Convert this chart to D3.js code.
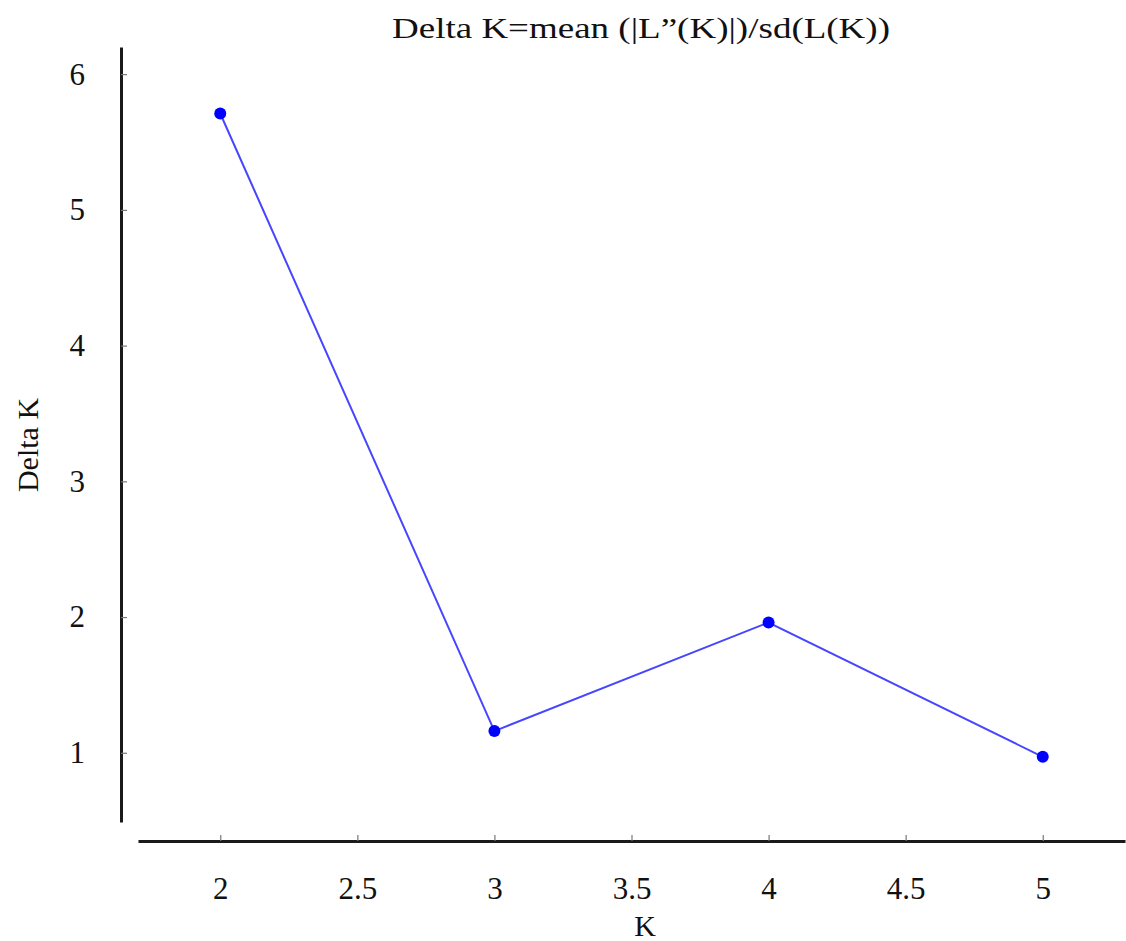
<!DOCTYPE html>
<html>
<head>
<meta charset="utf-8">
<script src="https://cdn.jsdelivr.net/npm/d3@7"></script>
<style>
    body { margin: 0; background: #fff; }
    svg text { font-family: "Liberation Serif", serif; fill: #111; }
</style>
</head>
<body>
<div id="chart"></div>
<script>
// data
const kValues = [2, 3, 4, 5];
const deltaK = [5.71, 1.16, 1.96, 0.97];
const xTicks = [2, 2.5, 3, 3.5, 4, 4.5, 5];
const yTicks = [1, 2, 3, 4, 5, 6];
const title = "Delta K=mean (|L\u201D(K)|)/sd(L(K))";

const width = 1126, height = 941;

const svg = d3.select('#chart').append('svg')
    .attr('width', width)
    .attr('height', height);

const x = d3.scaleLinear().domain([1.7, 5.3]).range([138, 1125]);
const y = d3.scaleLinear().domain([0.49, 6.2]).range([822, 47]);

// x axis, ticks point up into the plot
const xAxis = svg.append('g')
    .attr('transform', 'translate(0,841)')
    .call(d3.axisBottom(x)
        .tickValues(xTicks)
        .tickFormat(d3.format('~g'))
        .tickSizeInner(-6)
        .tickSizeOuter(0)
        .tickPadding(36));

// y axis, ticks to the right
const yAxis = svg.append('g')
    .attr('transform', 'translate(121,0)')
    .call(d3.axisLeft(y)
        .tickValues(yTicks)
        .tickFormat(d3.format('d'))
        .tickSizeInner(-6)
        .tickSizeOuter(0)
        .tickPadding(36));

[xAxis, yAxis].forEach(function (a) {
    a.attr('font-family', '"Liberation Serif", serif');
    a.select('.domain').attr('stroke', '#1a1a1a').attr('stroke-width', 3);
    a.selectAll('.tick line').attr('stroke', '#777').attr('stroke-width', 1.2);
    a.selectAll('.tick text').style('font-size', '31px').attr('fill', '#111');
});

// line + points
const pts = kValues.map((k, i) => [k, deltaK[i]]);

svg.append('path')
    .datum(pts)
    .attr('fill', 'none')
    .attr('stroke', '#4646ff')
    .attr('stroke-width', 2)
    .attr('d', d3.line().x(d => x(d[0])).y(d => y(d[1])));

svg.selectAll('circle.pt')
    .data(pts)
    .join('circle')
    .attr('class', 'pt')
    .attr('cx', d => x(d[0]))
    .attr('cy', d => y(d[1]))
    .attr('r', 6)
    .attr('fill', '#0000ff');

// title and axis labels
svg.append('text')
    .attr('x', 641)
    .attr('y', 38)
    .attr('text-anchor', 'middle')
    .attr('textLength', 498)
    .attr('lengthAdjust', 'spacingAndGlyphs')
    .style('font-size', '30px')
    .text(title);

svg.append('text')
    .attr('x', 645)
    .attr('y', 936)
    .attr('text-anchor', 'middle')
    .style('font-size', '30px')
    .text('K');

svg.append('text')
    .attr('transform', 'translate(38,445) rotate(-90)')
    .attr('text-anchor', 'middle')
    .style('font-size', '30px')
    .text('Delta K');
</script>
</body>
</html>
